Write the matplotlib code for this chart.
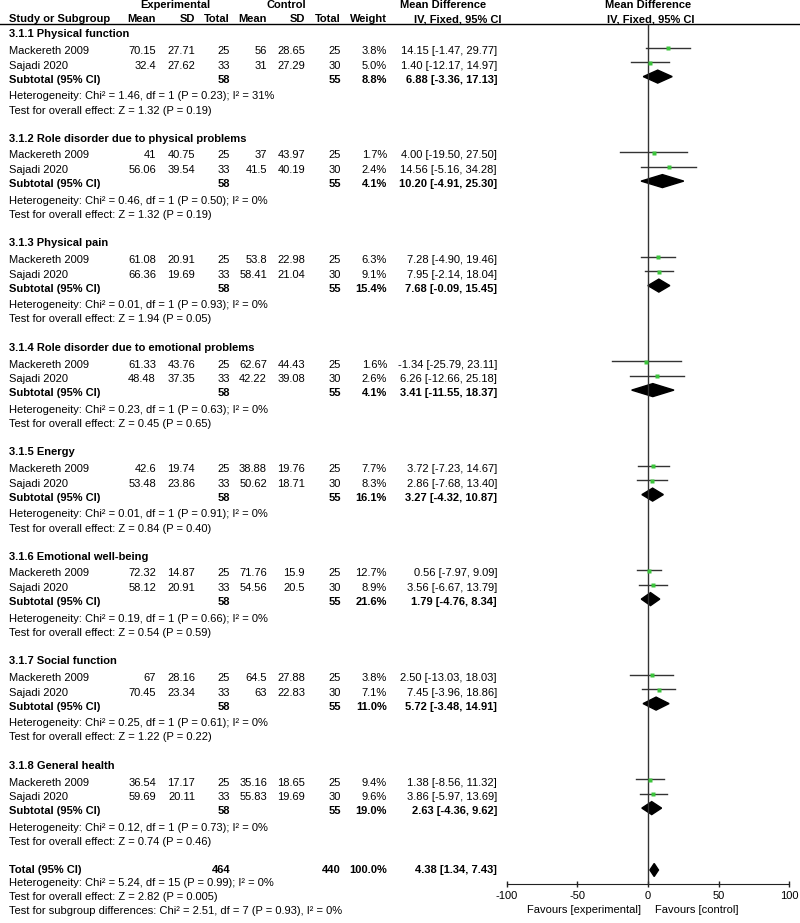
import matplotlib.pyplot as plt
from matplotlib.patches import Polygon

plt.rcParams['font.family'] = ['Liberation Sans', 'DejaVu Sans']
plt.rcParams['font.size'] = 8

# subgroup data
groups = ['3.1.1 Physical function', '3.1.2 Role disorder due to physical problems',
          '3.1.3 Physical pain', '3.1.4 Role disorder due to emotional problems',
          '3.1.5 Energy', '3.1.6 Emotional well-being', '3.1.7 Social function',
          '3.1.8 General health']
studies = ['Mackereth 2009', 'Sajadi 2020']
exp_n = [25, 33]
ctrl_n = [25, 30]
exp_mean = [[70.15, 32.4], [41, 56.06], [61.08, 66.36], [61.33, 48.48],
            [42.6, 53.48], [72.32, 58.12], [67, 70.45], [36.54, 59.69]]
exp_sd = [[27.71, 27.62], [40.75, 39.54], [20.91, 19.69], [43.76, 37.35],
          [19.74, 23.86], [14.87, 20.91], [28.16, 23.34], [17.17, 20.11]]
ctrl_mean = [[56, 31], [37, 41.5], [53.8, 58.41], [62.67, 42.22],
             [38.88, 50.62], [71.76, 54.56], [64.5, 63], [35.16, 55.83]]
ctrl_sd = [[28.65, 27.29], [43.97, 40.19], [22.98, 21.04], [44.43, 39.08],
           [19.76, 18.71], [15.9, 20.5], [27.88, 22.83], [18.65, 19.69]]
weight = [[3.8, 5.0], [1.7, 2.4], [6.3, 9.1], [1.6, 2.6],
          [7.7, 8.3], [12.7, 8.9], [3.8, 7.1], [9.4, 9.6]]
md = [[14.15, 1.40], [4.00, 14.56], [7.28, 7.95], [-1.34, 6.26],
      [3.72, 2.86], [0.56, 3.56], [2.50, 7.45], [1.38, 3.86]]
md_lo = [[-1.47, -12.17], [-19.50, -5.16], [-4.90, -2.14], [-25.79, -12.66],
         [-7.23, -7.68], [-7.97, -6.67], [-13.03, -3.96], [-8.56, -5.97]]
md_hi = [[29.77, 14.97], [27.50, 34.28], [19.46, 18.04], [23.11, 25.18],
         [14.67, 13.40], [9.09, 13.79], [18.03, 18.86], [11.32, 13.69]]
sub_weight = [8.8, 4.1, 15.4, 4.1, 16.1, 21.6, 11.0, 19.0]
sub_md = [6.88, 10.20, 7.68, 3.41, 3.27, 1.79, 5.72, 2.63]
sub_lo = [-3.36, -4.91, -0.09, -11.55, -4.32, -4.76, -3.48, -4.36]
sub_hi = [17.13, 25.30, 15.45, 18.37, 10.87, 8.34, 14.91, 9.62]
het_chi = ['1.46', '0.46', '0.01', '0.23', '0.01', '0.19', '0.25', '0.12']
het_p = ['0.23', '0.50', '0.93', '0.63', '0.91', '0.66', '0.61', '0.73']
het_i2 = [31, 0, 0, 0, 0, 0, 0, 0]
z_val = ['1.32', '1.32', '1.94', '0.45', '0.84', '0.54', '1.22', '0.74']
z_p = ['0.19', '0.19', '0.05', '0.65', '0.40', '0.59', '0.22', '0.46']

total_exp, total_ctrl = 464, 440
total_md, total_lo, total_hi = 4.38, 1.34, 7.43
total_lines = ['Heterogeneity: Chi\u00b2 = 5.24, df = 15 (P = 0.99); I\u00b2 = 0%',
               'Test for overall effect: Z = 2.82 (P = 0.005)',
               'Test for subgroup differences: Chi\u00b2 = 2.51, df = 7 (P = 0.93), I\u00b2 = 0%']

W, H = 800, 923
fig = plt.figure(figsize=(W / 100, H / 100), dpi=100)
ax_t = fig.add_axes([0, 0, 1, 1])
ax_t.set_xlim(0, W)
ax_t.set_ylim(H, 0)
ax_t.axis('off')

# forest panel: x in data units, y in pixels from the top
x0, x1, axis_y = 506.7, 789.3, 884
ax = fig.add_axes([x0 / W, (H - axis_y) / H, (x1 - x0) / W, axis_y / H])
ax.patch.set_alpha(0)
ax.set_xlim(-100, 100)
ax.set_ylim(axis_y, 0)
for s in ['left', 'right', 'top']:
    ax.spines[s].set_visible(False)
ax.spines['bottom'].set_color('#222222')
ax.set_yticks([])
ax.set_xticks([-100, -50, 0, 50, 100])
ax.set_xticklabels(['-100', '-50', '0', '50', '100'])
ax.tick_params(axis='x', direction='inout', length=5, width=1, color='#222222', pad=2.5, labelsize=8)
ax.vlines(0, 24, axis_y, color='#333333', lw=1)
ax.text(-5, 910, 'Favours [experimental]', ha='right', va='center', clip_on=False)
ax.text(5, 910, 'Favours [control]', ha='left', va='center', clip_on=False)

cols = [156, 195, 230, 267, 305, 341, 387]
ci_x = 497

# headers
ax_t.text(175, 5, 'Experimental', ha='center', va='center', weight='bold')
ax_t.text(286, 5, 'Control', ha='center', va='center', weight='bold')
ax_t.text(400, 5, 'Mean Difference', ha='left', va='center', weight='bold')
ax_t.text(648, 5, 'Mean Difference', ha='center', va='center', weight='bold')
ax_t.text(9, 19, 'Study or Subgroup', ha='left', va='center', weight='bold')
for x, lab in zip(cols, ['Mean', 'SD', 'Total', 'Mean', 'SD', 'Total', 'Weight']):
    ax_t.text(x, 19, lab, ha='right', va='center', weight='bold')
ax_t.text(502, 19, 'IV, Fixed, 95% CI', ha='right', va='center', weight='bold')
ax_t.text(651, 19, 'IV, Fixed, 95% CI', ha='center', va='center', weight='bold')
ax_t.plot([0, W], [24, 24], color='black', lw=1)

offs = [0, 16.7, 31.5, 45.3, 62, 76.2]
for g in range(len(groups)):
    y0 = 34.3 + 104.5 * g
    ax_t.text(9, y0 + offs[0], groups[g], ha='left', va='center', weight='bold')
    for i in range(2):
        y = y0 + offs[1 + i]
        vals = ['{:g}'.format(exp_mean[g][i]), '{:g}'.format(exp_sd[g][i]), str(exp_n[i]),
                '{:g}'.format(ctrl_mean[g][i]), '{:g}'.format(ctrl_sd[g][i]), str(ctrl_n[i]),
                '{:.1f}%'.format(weight[g][i])]
        ax_t.text(9, y, studies[i], ha='left', va='center')
        for x, v in zip(cols, vals):
            ax_t.text(x, y, v, ha='right', va='center')
        ax_t.text(ci_x, y, '{:.2f} [{:.2f}, {:.2f}]'.format(md[g][i], md_lo[g][i], md_hi[g][i]),
                  ha='right', va='center')
        ax.plot([md_lo[g][i], md_hi[g][i]], [y - 3.5, y - 3.5], color='#333333', lw=1)
        ax.plot(md[g][i], y - 3, 's', color='#3cc43c', ms=2.2, mec='none')
    y = y0 + offs[3]
    ax_t.text(9, y, 'Subtotal (95% CI)', ha='left', va='center', weight='bold')
    ax_t.text(cols[2], y, str(sum(exp_n)), ha='right', va='center', weight='bold')
    ax_t.text(cols[5], y, str(sum(ctrl_n)), ha='right', va='center', weight='bold')
    ax_t.text(cols[6], y, '{:.1f}%'.format(sub_weight[g]), ha='right', va='center', weight='bold')
    ax_t.text(ci_x, y, '{:.2f} [{:.2f}, {:.2f}]'.format(sub_md[g], sub_lo[g], sub_hi[g]),
              ha='right', va='center', weight='bold')
    yd = y - 3
    ax.add_patch(Polygon([(sub_lo[g], yd), (sub_md[g], yd - 6.5), (sub_hi[g], yd), (sub_md[g], yd + 6.5)],
                         closed=True, color='black'))
    ax_t.text(9, y0 + offs[4], 'Heterogeneity: Chi\u00b2 = {}, df = 1 (P = {}); I\u00b2 = {}%'.format(
        het_chi[g], het_p[g], het_i2[g]), ha='left', va='center')
    ax_t.text(9, y0 + offs[5], 'Test for overall effect: Z = {} (P = {})'.format(z_val[g], z_p[g]),
              ha='left', va='center')

# overall total
yt = 870
ax_t.text(9, yt, 'Total (95% CI)', ha='left', va='center', weight='bold')
ax_t.text(cols[2], yt, str(total_exp), ha='right', va='center', weight='bold')
ax_t.text(cols[5], yt, str(total_ctrl), ha='right', va='center', weight='bold')
ax_t.text(cols[6], yt, '100.0%', ha='right', va='center', weight='bold')
ax_t.text(ci_x, yt, '{:.2f} [{:.2f}, {:.2f}]'.format(total_md, total_lo, total_hi),
          ha='right', va='center', weight='bold')
ax.add_patch(Polygon([(total_lo, yt), (total_md, yt - 6.5), (total_hi, yt), (total_md, yt + 6.5)],
                     closed=True, color='black'))
for k, line in enumerate(total_lines):
    ax_t.text(9, 883 + 14 * k, line, ha='left', va='center')

fig.savefig('out.png', dpi=100)
